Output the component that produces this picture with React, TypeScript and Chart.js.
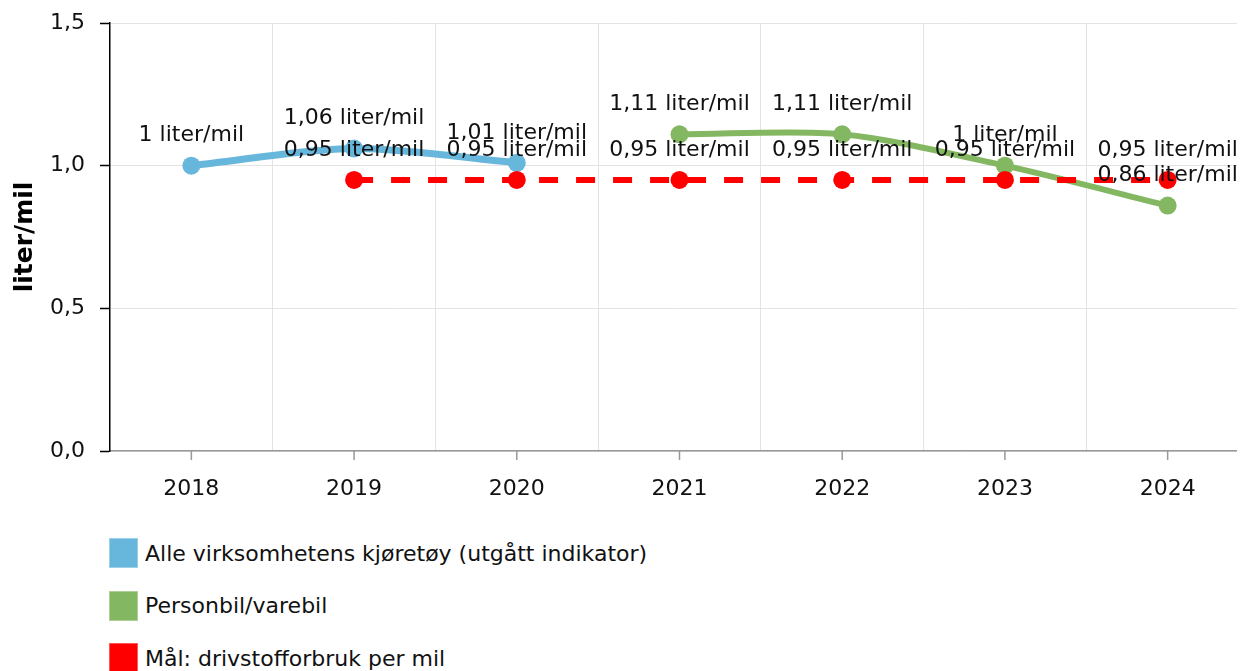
import React, { useEffect, useRef } from "react";
import { Chart, registerables } from "chart.js";

Chart.register(...registerables);

const years = ["2018", "2019", "2020", "2021", "2022", "2023", "2024"];
const alleKjoretoy = [1.0, 1.06, 1.01, null, null, null, null];
const personbil = [null, null, null, 1.11, 1.11, 1.0, 0.86];
const maal = [null, 0.95, 0.95, 0.95, 0.95, 0.95, 0.95];
const yTicks = [0, 0.5, 1.0, 1.5];

const seriesNames = [
  "Alle virksomhetens kjøretøy (utgått indikator)",
  "Personbil/varebil",
  "Mål: drivstofforbruk per mil",
];
const seriesColors = ["#67b7dc", "#84b761", "#ff0000"];

const FONT = '"DejaVu Sans", Verdana, sans-serif';

const fmt = (v: number) => String(v).replace(".", ",") + " liter/mil";

const valueLabels = {
  id: "valueLabels",
  afterDatasetsDraw(chart: any) {
    const ctx = chart.ctx;
    ctx.save();
    ctx.font = `22px ${FONT}`;
    ctx.fillStyle = "#111111";
    ctx.textAlign = "center";
    ctx.textBaseline = "middle";
    chart.data.datasets.forEach((ds: any, di: number) => {
      const meta = chart.getDatasetMeta(di);
      meta.data.forEach((el: any, i: number) => {
        const v = ds.data[i];
        if (v == null) return;
        ctx.fillText(fmt(v), el.x, el.y - 30);
      });
    });
    ctx.restore();
  },
};

const xTickMarks = {
  id: "xTickMarks",
  afterDraw(chart: any) {
    const x = chart.scales.x;
    const ctx = chart.ctx;
    ctx.save();
    ctx.strokeStyle = "#999999";
    ctx.lineWidth = 1.5;
    years.forEach((_, i) => {
      const px = x.getPixelForValue(i);
      ctx.beginPath();
      ctx.moveTo(px, x.top);
      ctx.lineTo(px, x.top + 9);
      ctx.stroke();
    });
    ctx.restore();
  },
};

export default function App() {
  const ref = useRef<HTMLCanvasElement>(null);

  useEffect(() => {
    document.documentElement.style.overflow = "hidden";
    document.body.style.overflow = "hidden";
    const chart = new Chart(ref.current as HTMLCanvasElement, {
      type: "line",
      data: {
        labels: years,
        datasets: [
          {
            label: seriesNames[0],
            data: alleKjoretoy,
            borderColor: seriesColors[0],
            backgroundColor: seriesColors[0],
            borderWidth: 7,
            pointRadius: 9,
            pointBorderWidth: 0,
            tension: 0.3,
            order: 1,
          },
          {
            label: seriesNames[1],
            data: personbil,
            borderColor: seriesColors[1],
            backgroundColor: seriesColors[1],
            borderWidth: 6,
            pointRadius: 9,
            pointBorderWidth: 0,
            tension: 0.3,
            order: 1,
          },
          {
            label: seriesNames[2],
            data: maal,
            borderColor: seriesColors[2],
            backgroundColor: seriesColors[2],
            borderWidth: 6,
            borderDash: [19, 18],
            pointRadius: 9,
            pointBorderWidth: 0,
            tension: 0,
            order: 0,
          },
        ],
      },
      options: {
        responsive: false,
        animation: false,
        layout: { padding: { top: 15, right: 6, left: 0, bottom: 0 } },
        plugins: {
          legend: { display: false },
          tooltip: { enabled: false },
        },
        scales: {
          x: {
            offset: true,
            afterFit: (s: any) => {
              s.height = 67;
              s.paddingLeft = 0;
              s.paddingRight = 0;
            },
            grid: {
              offset: true,
              color: "#e3e3e3",
              lineWidth: 1,
              drawTicks: false,
            },
            border: { color: "#999999", width: 1.5 },
            ticks: {
              color: "#111111",
              font: { family: FONT, size: 22 },
              padding: 25,
              maxRotation: 0,
            },
          },
          y: {
            min: 0,
            max: 1.5,
            afterFit: (s: any) => {
              s.width = 102;
              s.paddingTop = 0;
              s.paddingBottom = 0;
            },
            afterBuildTicks: (s: any) => {
              s.ticks = yTicks.map((v) => ({ value: v }));
            },
            grid: {
              color: "#e3e3e3",
              lineWidth: 1,
              tickColor: "#000000",
              tickLength: 10,
              tickWidth: 1.5,
            },
            border: { color: "#000000", width: 1.5 },
            ticks: {
              color: "#111111",
              font: { family: FONT, size: 22 },
              padding: 15,
              callback: (v: any) => Number(v).toFixed(1).replace(".", ","),
            },
            title: {
              display: true,
              text: "liter/mil",
              color: "#000000",
              font: { family: FONT, size: 25, weight: "bold" },
              padding: { top: 2, bottom: 0 },
            },
          },
        },
      },
      plugins: [valueLabels, xTickMarks],
    });
    return () => chart.destroy();
  }, []);

  return (
    <div style={{ position: "relative", width: 1237, height: 663, overflow: "hidden" }}>
      <div style={{ position: "absolute", left: 0, top: 0, width: 1250, height: 510 }}>
        <canvas ref={ref} width={1250} height={510} style={{ width: 1250, height: 510 }} />
      </div>
      {seriesNames.map((name, i) => (
        <div
          key={name}
          style={{
            position: "absolute",
            left: 101,
            top: 530 + 52.5 * i,
            height: 30,
            display: "flex",
            alignItems: "center",
            fontFamily: FONT,
            fontSize: 22,
            color: "#111111",
            whiteSpace: "nowrap",
          }}
        >
          <span
            style={{
              display: "inline-block",
              width: 29,
              height: 30,
              boxSizing: "border-box",
              background: seriesColors[i],
              border: "1px solid rgba(255,255,255,0.35)",
              marginRight: 7,
            }}
          />
          <span>{name}</span>
        </div>
      ))}
    </div>
  );
}
